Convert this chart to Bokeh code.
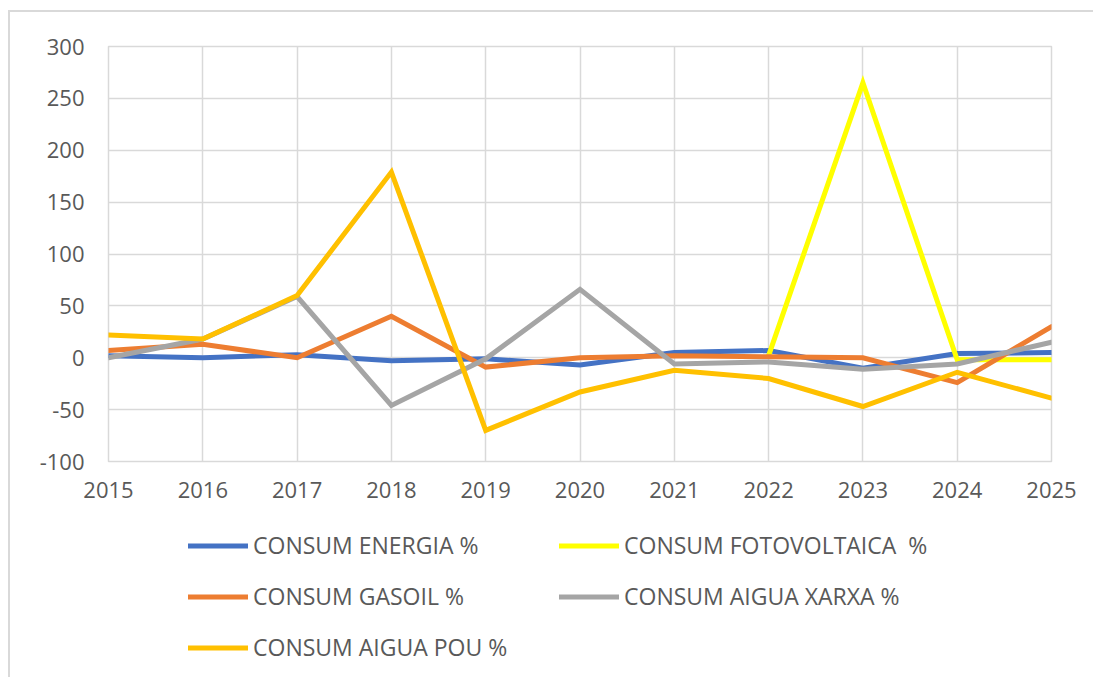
from bokeh.plotting import figure
from bokeh.layouts import column
from bokeh.models import FixedTicker, Legend, LegendItem
from bokeh.embed import file_html
from bokeh.resources import INLINE

years = [2015, 2016, 2017, 2018, 2019, 2020, 2021, 2022, 2023, 2024, 2025]
nan = float("nan")

energia = [2, 0, 3, -3, -1, -7, 5, 7, -10, 4, 5]
fotovoltaica = [nan, nan, nan, nan, nan, nan, nan, 2, 265, -2, -2]
gasoil = [7, 13, 0, 40, -9, 0, 2, 1, 0, -24, 30]
aigua_xarxa = [0, 18, 59, -46, -1, 66, -6, -4, -11, -6, 15]
aigua_pou = [22, 18, 60, 179, -70, -33, -12, -20, -47, -14, -39]

y_ticks = [-100, -50, 0, 50, 100, 150, 200, 250, 300]
y_labels = ["-100", "-50", "0", "50", "100", "150", "200", "250", "300"]

series = [
    ("CONSUM ENERGIA %", energia, "#4472C4"),
    ("CONSUM FOTOVOLTAICA  %", fotovoltaica, "#FFFF00"),
    ("CONSUM GASOIL %", gasoil, "#ED7D31"),
    ("CONSUM AIGUA XARXA %", aigua_xarxa, "#A5A5A5"),
    ("CONSUM AIGUA POU %", aigua_pou, "#FFC000"),
]

FONT = "Open Sans"
TXT = "#595959"
GRID = "#D9D9D9"

p = figure(
    output_backend="svg", toolbar_location=None,
    frame_width=941, frame_height=413,
    min_border_left=98, min_border_right=44, min_border_top=34, min_border_bottom=60,
    x_range=(years[0], years[-1]), y_range=(y_ticks[0], y_ticks[-1]),
)
p.styles = {"border-top": "2px solid #D9D9D9", "border-left": "2px solid #D9D9D9",
            "margin-top": "10px", "margin-left": "8px"}
p.outline_line_color = GRID
p.outline_line_width = 1.5
p.background_fill_color = "white"
p.border_fill_color = "white"

p.xaxis.ticker = FixedTicker(ticks=years)
p.yaxis.ticker = FixedTicker(ticks=y_ticks)
p.yaxis.major_label_overrides = {t: l for t, l in zip(y_ticks, y_labels)}
for ax in (p.xaxis, p.yaxis):
    ax.axis_line_color = None
    ax.major_tick_line_color = None
    ax.minor_tick_line_color = None
    ax.major_tick_out = 0
    ax.major_tick_in = 0
    ax.major_label_text_font = FONT
    ax.major_label_text_font_size = "22px"
    ax.major_label_text_color = TXT
p.xaxis.major_label_standoff = 20
p.yaxis.major_label_standoff = 24

p.xgrid.grid_line_color = GRID
p.ygrid.grid_line_color = GRID
p.xgrid.grid_line_width = 1.5
p.ygrid.grid_line_width = 1.5

for name, vals, col in series:
    p.line(years, vals, line_color=col, line_width=5, line_join="miter", line_cap="round")

# legend panel beneath the chart (its frame is aligned with the chart's frame)
p2 = figure(
    output_backend="svg", toolbar_location=None,
    width=1083, height=158, min_border=0,
    x_axis_type=None, y_axis_type=None, x_range=(0, 1), y_range=(0, 1),
)
p2.styles = {"border-left": "2px solid #D9D9D9", "margin-left": "8px"}
p2.outline_line_color = None
p2.grid.grid_line_color = None
p2.background_fill_color = "white"
p2.border_fill_color = "white"

legend_items = []
for name, vals, col in series:
    r = p2.line(x=[nan, nan], y=[nan, nan], line_color=col, line_width=5, line_cap="round")
    legend_items.append(LegendItem(label=name, renderers=[r]))

legend = Legend(
    items=legend_items,
    orientation="horizontal", ncols=2,
    location=(80, 14),
    label_text_font=FONT, label_text_font_size="23px", label_text_color=TXT,
    glyph_width=60, glyph_height=29, label_height=29, label_width=287,
    label_standoff=5, spacing=19, padding=0, margin=0,
    border_line_color=None, background_fill_alpha=0,
)
p2.add_layout(legend, "center")

layout = column(p, p2, spacing=0)
open("out.html", "w").write(file_html(layout, INLINE))
